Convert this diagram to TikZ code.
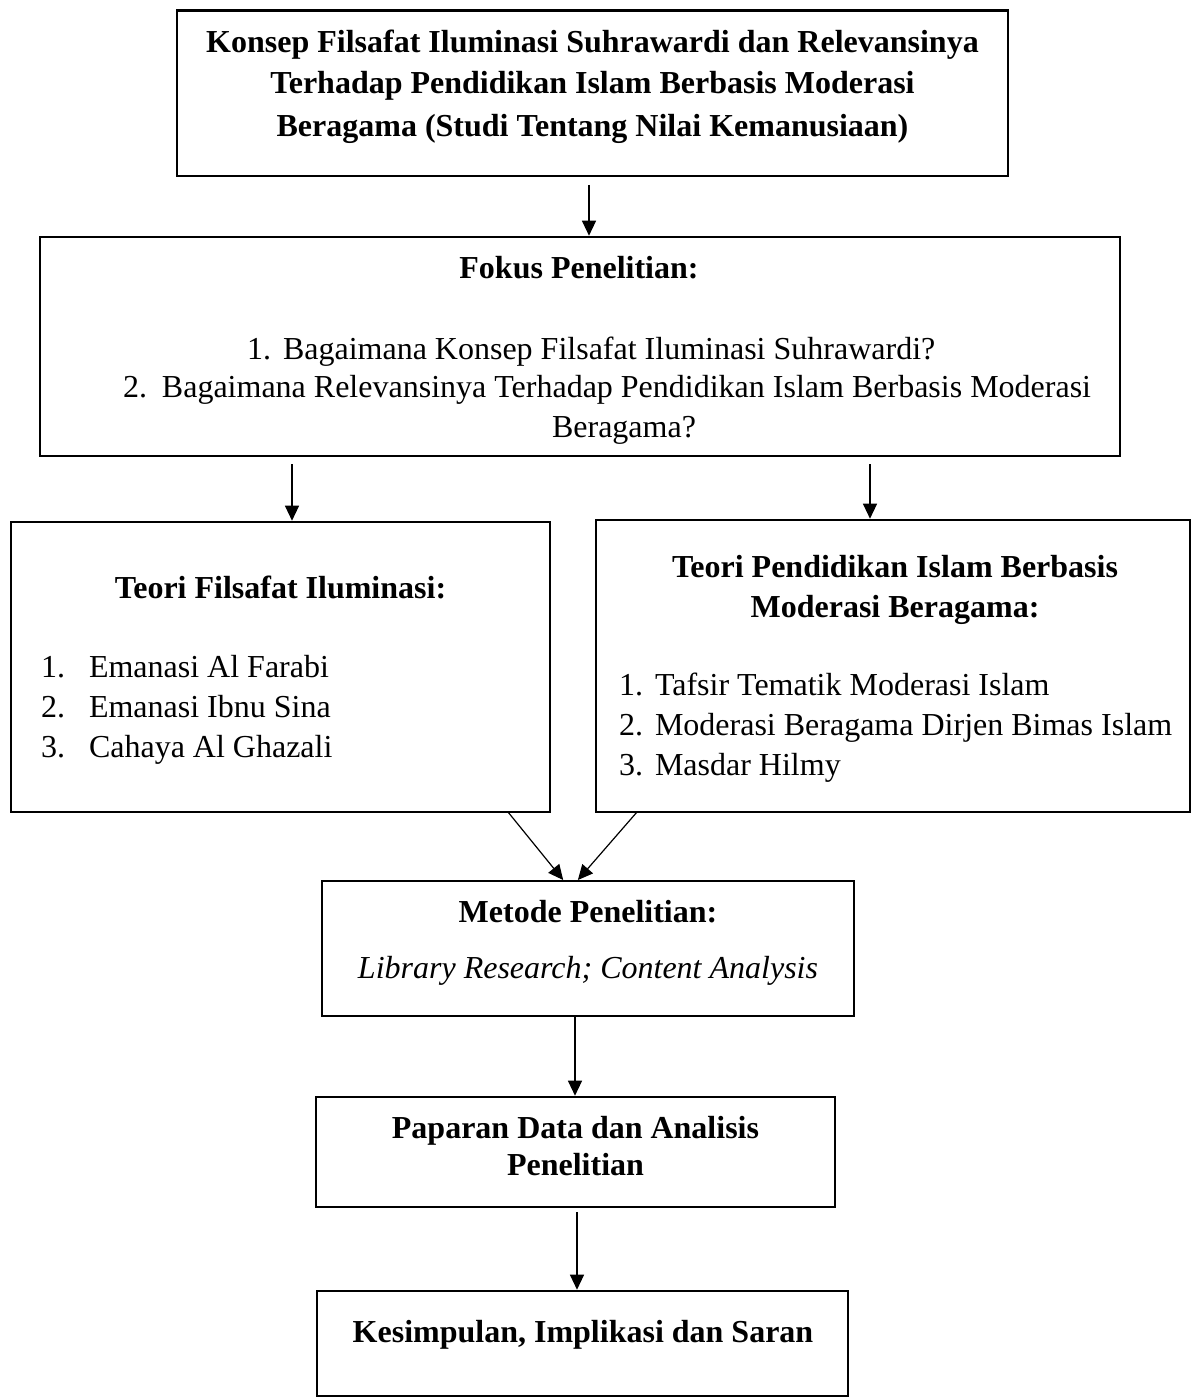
\documentclass[tikz,border=0pt]{standalone}
\usepackage{fontspec}
\setmainfont{Liberation Serif}
\usetikzlibrary{arrows.meta}
\newcommand\diagfont{\fontsize{32pt}{40pt}\selectfont}
\begin{document}
\begin{tikzpicture}[x=1pt,y=-1pt,
  frame/.style={draw=black, line width=2.6pt, rectangle, inner sep=0pt, outer sep=0pt},
  txt/.style={inner sep=0pt, outer sep=0pt, anchor=base, font=\diagfont},
  head/.style={txt, font=\diagfont\bfseries},
  item/.style={txt, anchor=base west},
  arr/.style={line width=1.2pt, -{Triangle[length=15pt,width=14pt]}, shorten >=1.3pt}]
\useasboundingbox (0,0) rectangle (1193,1399);

% frames
\node[frame, minimum width=831pt, minimum height=165.5pt] (judul) at (592.5,93.25) {};
\node[frame, minimum width=1080pt, minimum height=219pt] (fokus) at (580,346.5) {};
\node[frame, minimum width=539pt, minimum height=290pt] (kiri) at (280.5,667) {};
\node[frame, minimum width=594pt, minimum height=292pt] (kanan) at (893,666) {};
\node[frame, minimum width=532pt, minimum height=135pt] (metode) at (588,948.5) {};
\node[frame, minimum width=519pt, minimum height=110pt] (paparan) at (575.5,1152) {};
\node[frame, minimum width=531pt, minimum height=105pt] (simpulan) at (582.5,1343.5) {};

% title
\node[head] (judul1) at (592.5,53) {Konsep Filsafat Iluminasi Suhrawardi dan Relevansinya};
\node[head] (judul2) at (592.5,94) {Terhadap Pendidikan Islam Berbasis Moderasi};
\node[head] (judul3) at (592.5,137) {Beragama (Studi Tentang Nilai Kemanusiaan)};

% research focus
\node[head] (fokusT) at (579,278) {Fokus Penelitian:};
\node[item] (fq1) at (247,359) {\makebox[36pt][l]{1.}Bagaimana Konsep Filsafat Iluminasi Suhrawardi?};
\node[item] (fq2) at (123,397) {\makebox[39pt][l]{2.}Bagaimana Relevansinya Terhadap Pendidikan Islam Berbasis Moderasi};
\node[txt] (fq2b) at (624,437) {Beragama?};

% illumination theory
\node[head] (kiriT) at (280.5,598) {Teori Filsafat Iluminasi:};
\node[item] (k1) at (41,677) {\makebox[48pt][l]{1.}Emanasi Al Farabi};
\node[item] (k2) at (41,717) {\makebox[48pt][l]{2.}Emanasi Ibnu Sina};
\node[item] (k3) at (41,757) {\makebox[48pt][l]{3.}Cahaya Al Ghazali};

% moderation theory
\node[head] (kananT1) at (895,577) {Teori Pendidikan Islam Berbasis};
\node[head] (kananT2) at (895,617) {Moderasi Beragama:};
\node[item] (m1) at (619,695) {\makebox[36pt][l]{1.}Tafsir Tematik Moderasi Islam};
\node[item] (m2) at (619,735) {\makebox[36pt][l]{2.}Moderasi Beragama Dirjen Bimas Islam};
\node[item] (m3) at (619,775) {\makebox[36pt][l]{3.}Masdar Hilmy};

% method
\node[head] (metodeT) at (588,922) {Metode Penelitian:};
\node[txt, font=\diagfont\itshape] (metodeI) at (588,978) {Library Research; Content Analysis};

% data and analysis
\node[head] (paparan1) at (575.5,1138) {Paparan Data dan Analisis};
\node[head] (paparan2) at (575.5,1175) {Penelitian};

% conclusion
\node[head] (simpulanT) at (583,1342) {Kesimpulan, Implikasi dan Saran};

% connectors
\draw[arr, shorten <=9pt] ([xshift=-3.5pt]judul.south) -- ([xshift=9pt]fokus.north);
\draw[arr, shorten <=8pt] ([xshift=-288pt]fokus.south) -- ([xshift=11.5pt]kiri.north);
\draw[arr, shorten <=8pt] ([xshift=290pt]fokus.south) -- ([xshift=-23pt]kanan.north);
\draw[arr] ([xshift=227.5pt]kiri.south) -- ([xshift=-24pt]metode.north);
\draw[arr] ([xshift=-256pt]kanan.south) -- ([xshift=-11pt]metode.north);
\draw[arr] ([xshift=-13pt]metode.south) -- ([xshift=-0.5pt]paparan.north);
\draw[arr, shorten <=5pt] ([xshift=1.5pt]paparan.south) -- ([xshift=-5.5pt]simpulan.north);
\end{tikzpicture}
\end{document}
